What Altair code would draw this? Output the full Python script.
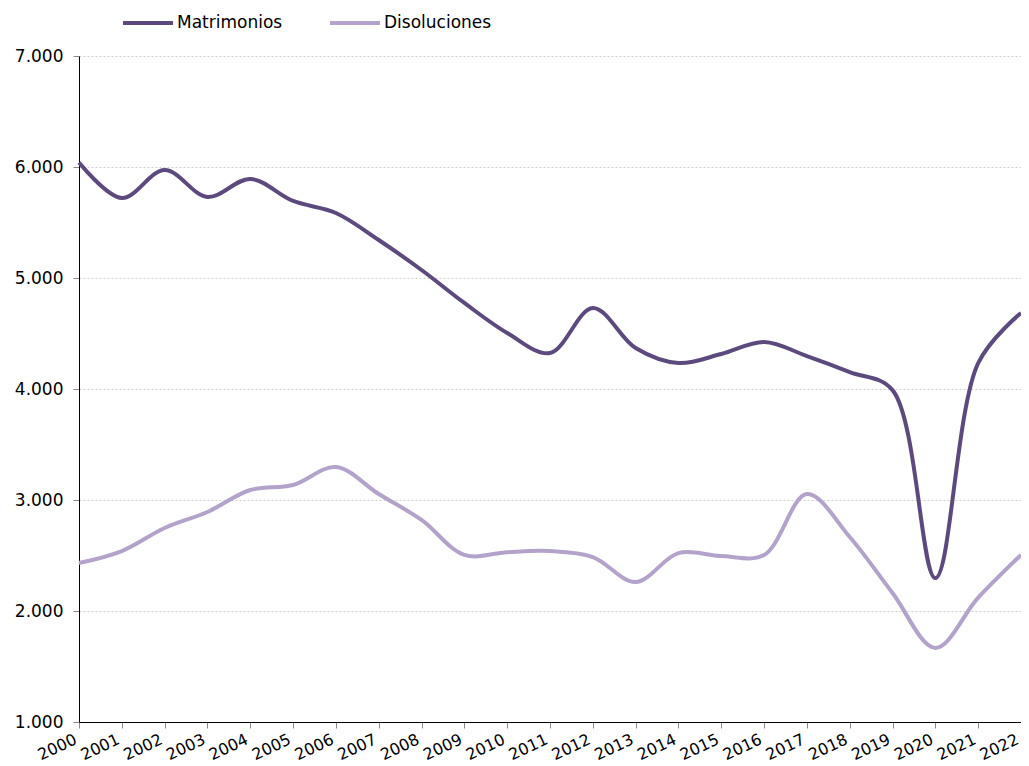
import altair as alt
import pandas as pd

years = list(range(2000, 2023))
matrimonios = [6040, 5720, 5973, 5730, 5892, 5694, 5586, 5342, 5072, 4775,
               4505, 4324, 4730, 4369, 4234, 4315, 4423, 4297, 4153, 3990,
               2297, 4234, 4685]
disoluciones = [2432, 2540, 2748, 2892, 3090, 3135, 3297, 3054, 2820, 2505,
                2530, 2540, 2486, 2261, 2522, 2495, 2505, 3054, 2667, 2162,
                1667, 2120, 2505]
series_names = ["Matrimonios", "Disoluciones"]
colors = ["#5c4a7e", "#b3a3cb"]

rows = []
for y, m, d in zip(years, matrimonios, disoluciones):
    rows.append({"year": y, "serie": series_names[0], "valor": m})
    rows.append({"year": y, "serie": series_names[1], "valor": d})
df = pd.DataFrame(rows)

FONT = "DejaVu Sans"

chart = alt.Chart(df).mark_line(
    interpolate="catmull-rom", strokeWidth=4
).encode(
    x=alt.X("year:Q",
            scale=alt.Scale(domain=[2000, 2022], nice=False, zero=False),
            axis=alt.Axis(values=years, format="d", title=None, grid=False,
                          labelAngle=-25, labelAlign="right", labelBaseline="top",
                          labelPadding=3, labelOffset=-7, tickSize=6, tickColor="#888888",
                          domainColor="#000000", labelFont=FONT, labelFontSize=16,
                          labelColor="#000000", labelOverlap=False, labelFlush=False)),
    y=alt.Y("valor:Q",
            scale=alt.Scale(domain=[1000, 7000], nice=False, zero=False),
            axis=alt.Axis(values=[1000, 2000, 3000, 4000, 5000, 6000, 7000], title=None,
                          labelExpr="replace(format(datum.value, ','), ',', '.')",
                          grid=True, gridColor="#cfcfcf", gridDash=[2, 2], gridWidth=1,
                          tickSize=6, tickColor="#888888", domainColor="#000000",
                          labelFont=FONT, labelFontSize=17, labelColor="#000000",
                          labelPadding=10)),
    color=alt.Color("serie:N",
                    scale=alt.Scale(domain=series_names, range=colors),
                    legend=alt.Legend(title=None, orient="none", legendX=42, legendY=-60,
                                      direction="horizontal", symbolType="stroke",
                                      symbolSize=2500, symbolStrokeWidth=4,
                                      labelFont=FONT, labelFontSize=17, labelColor="#000000",
                                      labelOffset=2, columnPadding=39)),
    order="year:Q",
).properties(
    width=942, height=666,
    autosize=alt.AutoSizeParams(type="none"),
    padding={"left": 71, "top": 48, "right": 0, "bottom": 44},
).configure_view(stroke=None)

chart.save("out.html", embed_options={"renderer": "svg", "actions": False})
